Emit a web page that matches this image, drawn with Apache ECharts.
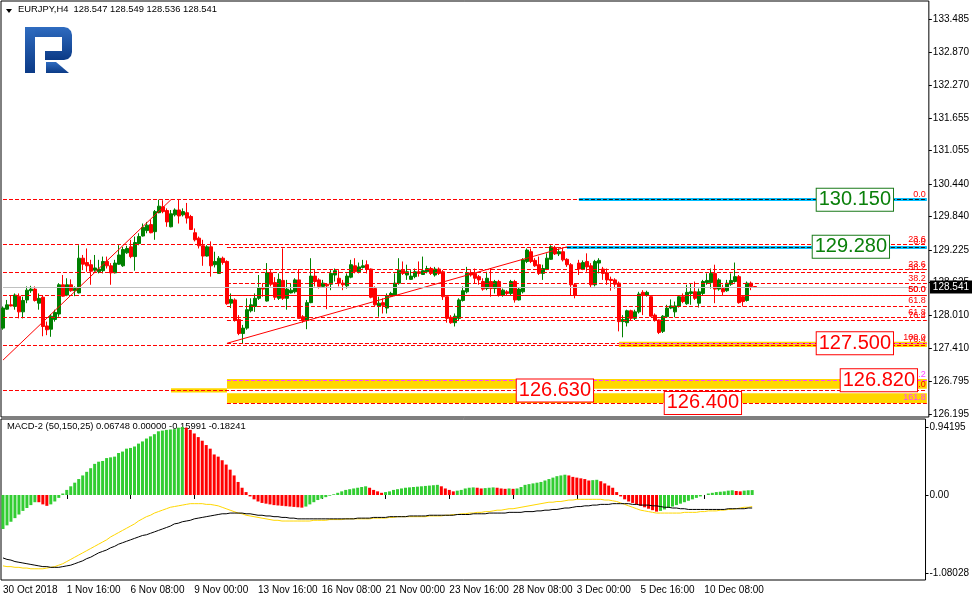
<!DOCTYPE html>
<html><head><meta charset="utf-8">
<script src="https://cdn.jsdelivr.net/npm/echarts@6/dist/echarts.min.js"></script>
<style>html,body{margin:0;padding:0;background:#fff}#c{width:972px;height:601px}</style>
</head><body><div id="c"></div>
<script>
// ---------- DATA ----------
const symbolTitle = 'EURJPY,H4  128.547 128.549 128.536 128.541';
const macdTitle = 'MACD-2 (50,150,25) 0.06748 0.00000 -0.15991 -0.18241';
const barCount = 189;          // H4 bars from 30 Oct 2018 00:00
const slotCount = 232;         // bars + empty chart shift
const lastPrice = 128.541;

const open = [
127.78,128.13,128.21,128.18,128.37,128.08,128.30,128.47,128.50,128.24,
128.35,127.82,127.76,127.94,128.04,128.58,128.39,128.58,128.47,128.43,
129.07,128.99,128.95,128.85,128.82,128.84,129.01,128.93,128.80,128.96,
128.93,129.17,129.28,129.10,129.34,129.48,129.58,129.69,129.56,129.91,
130.02,129.95,129.65,129.87,129.96,129.87,129.91,129.84,129.54,129.44,
129.30,129.11,129.28,128.95,128.79,129.07,129.01,128.24,128.30,127.94,
127.68,127.78,128.10,128.18,128.33,128.53,128.28,128.80,128.62,128.33,
128.66,128.33,128.43,128.45,128.67,127.99,127.92,128.25,128.74,128.67,
128.55,128.59,128.59,128.76,128.70,128.61,128.56,128.72,128.93,128.82,
128.90,128.95,128.87,128.51,128.19,128.25,128.15,128.37,128.39,128.61,
128.85,128.76,128.68,128.73,128.82,128.77,128.82,128.88,128.76,128.87,
128.82,128.36,127.98,127.88,127.96,128.29,128.45,128.80,128.79,128.73,
128.64,128.51,128.64,128.51,128.64,128.39,128.45,128.42,128.64,128.30,
128.45,129.01,129.19,129.03,128.95,128.79,128.87,129.05,129.27,129.15,
129.19,129.05,128.95,128.58,128.98,128.87,129.01,128.93,128.58,128.98,
128.87,128.80,128.68,128.67,128.61,127.90,127.88,128.10,127.96,128.08,
128.44,128.39,128.36,128.02,127.93,127.72,127.99,128.15,128.08,128.18,
128.36,128.23,128.42,128.45,128.24,128.42,128.62,128.62,128.79,128.50,
128.51,128.47,128.59,128.64,128.73,128.36,128.29,128.61,128.547];
const close = [
128.15,128.21,128.19,128.39,128.08,128.29,128.48,128.50,128.29,128.33,
127.81,127.75,128.00,128.07,128.58,128.37,128.58,128.47,128.51,129.07,
128.96,128.93,128.83,128.89,128.87,129.01,128.93,128.80,128.98,129.13,
129.23,129.25,129.10,129.36,129.47,129.64,129.68,129.54,129.93,130.03,
129.93,129.74,129.89,129.96,129.85,129.93,129.81,129.60,129.41,129.30,
129.11,129.28,128.93,129.01,129.07,128.99,128.23,128.31,127.92,127.68,
127.78,128.12,128.21,128.33,128.53,128.50,128.80,128.59,128.35,128.68,
128.33,128.50,128.48,128.67,127.96,127.92,128.25,128.74,128.64,128.55,
128.61,128.56,128.79,128.84,128.61,128.58,128.74,128.95,128.82,128.91,
128.93,128.87,128.35,128.21,128.24,128.20,128.37,128.42,128.61,128.85,
128.79,128.82,128.74,128.82,128.79,128.84,128.88,128.79,128.87,128.79,
128.36,127.96,127.88,128.00,128.30,128.47,128.79,128.76,128.70,128.67,
128.50,128.70,128.51,128.64,128.39,128.48,128.42,128.64,128.30,128.50,
129.04,129.22,129.01,128.93,128.79,128.88,129.07,129.28,129.15,129.19,
129.04,128.95,128.58,128.39,128.87,128.99,128.91,128.58,129.01,129.03,
128.79,128.67,128.66,128.59,127.90,127.94,128.10,127.96,128.08,128.41,
128.39,128.44,128.00,127.92,127.70,128.00,128.15,128.19,128.19,128.36,
128.27,128.44,128.45,128.33,128.45,128.64,128.66,128.79,128.50,128.67,
128.45,128.61,128.66,128.73,128.25,128.27,128.61,128.55,128.541];
const low = [
127.75,128.12,128.18,128.12,127.96,127.96,128.24,128.43,128.27,128.12,
127.63,127.65,127.62,127.90,127.99,128.36,128.37,128.45,128.37,128.42,
128.85,128.82,128.58,128.82,128.79,128.79,128.88,128.58,128.79,128.95,
128.91,129.15,129.07,128.84,129.31,129.47,129.53,129.53,129.41,129.90,
129.90,129.65,129.64,129.84,129.71,129.84,129.71,129.59,129.38,129.25,
128.93,129.10,128.73,128.90,128.78,128.95,128.21,128.15,127.90,127.65,
127.50,127.75,128.07,128.08,128.30,128.36,128.27,128.55,128.30,128.30,
128.30,128.12,128.42,128.42,127.96,127.88,127.76,128.24,128.55,128.51,
128.53,128.13,128.48,128.64,128.55,128.48,128.51,128.70,128.79,128.79,
128.88,128.79,128.33,128.19,127.99,128.05,128.05,128.36,128.37,128.58,
128.76,128.67,128.67,128.70,128.73,128.76,128.79,128.76,128.73,128.76,
128.30,127.88,127.86,127.81,127.93,128.27,128.42,128.73,128.61,128.58,
128.47,128.48,128.36,128.42,128.36,128.36,128.39,128.39,128.25,128.29,
128.42,128.98,128.98,128.91,128.76,128.67,128.85,129.04,129.13,129.11,
129.01,128.91,128.39,128.33,128.76,128.85,128.82,128.53,128.55,128.79,
128.67,128.58,128.47,128.51,127.72,127.61,127.81,127.93,127.93,128.05,
128.02,128.36,127.99,127.90,127.67,127.69,127.98,128.13,127.98,128.16,
128.24,128.21,128.21,128.30,128.16,128.39,128.58,128.51,128.24,128.47,
128.39,128.45,128.56,128.62,128.23,128.18,128.27,128.48,128.536];
const high = [
128.18,128.30,128.39,128.42,128.42,128.36,128.55,128.56,128.55,128.42,
128.39,127.90,128.04,128.12,128.61,128.76,128.70,128.68,128.55,129.31,
129.13,129.25,129.04,129.13,129.04,129.10,129.10,128.98,129.04,129.31,
129.28,129.30,129.41,129.47,129.53,129.71,129.74,129.78,129.96,130.15,
130.14,129.99,129.96,129.99,130.15,129.99,130.09,129.87,129.62,129.47,
129.41,129.31,129.38,129.19,129.11,129.10,129.03,128.42,128.33,128.02,
127.84,128.33,128.33,128.42,128.76,128.61,128.98,128.85,128.72,128.79,
129.25,128.67,128.61,128.70,128.87,128.02,128.30,129.07,128.85,128.70,
128.67,128.61,128.85,128.88,128.85,128.67,128.79,129.04,129.07,128.99,
129.04,129.03,128.88,128.55,128.36,128.33,128.42,128.45,128.79,129.07,
129.01,128.95,128.85,128.88,129.01,129.10,128.93,128.91,128.91,128.90,
128.85,128.36,128.02,128.05,128.33,128.55,128.91,128.85,128.88,128.76,
128.70,128.82,128.88,128.67,128.67,128.51,128.48,128.67,128.67,128.53,
129.07,129.25,129.25,129.07,129.10,128.95,129.16,129.31,129.30,129.25,
129.27,129.07,128.98,128.61,129.04,129.03,129.16,128.98,129.04,129.07,
128.91,128.88,128.73,128.70,128.64,128.02,128.12,128.12,128.12,128.45,
128.48,128.47,128.37,128.05,127.94,128.02,128.21,128.31,128.27,128.39,
128.42,128.58,128.61,128.64,128.51,128.67,128.79,128.88,128.95,128.70,
128.58,128.67,128.79,128.99,128.76,128.39,128.64,128.64,128.549];

const macdHist = [
-0.47,-0.42,-0.37,-0.32,-0.27,-0.22,-0.18,-0.14,-0.10,-0.10,
-0.13,-0.15,-0.13,-0.09,-0.04,0.02,0.07,0.12,0.17,0.22,
0.27,0.32,0.37,0.43,0.46,0.47,0.51,0.52,0.53,0.58,
0.60,0.64,0.65,0.67,0.71,0.74,0.78,0.81,0.84,0.88,
0.89,0.90,0.905,0.91,0.93,0.94,0.93,0.90,0.85,0.80,
0.75,0.69,0.64,0.56,0.53,0.48,0.42,0.35,0.27,0.18,
0.10,0.04,-0.02,-0.06,-0.09,-0.11,-0.12,-0.13,-0.14,-0.145,
-0.15,-0.155,-0.16,-0.165,-0.17,-0.175,-0.16,-0.13,-0.10,-0.07,
-0.05,-0.03,-0.01,0.01,0.03,0.05,0.07,0.08,0.09,0.10,
0.11,0.12,0.10,0.07,0.05,0.03,0.04,0.05,0.07,0.08,
0.09,0.10,0.105,0.11,0.115,0.12,0.125,0.13,0.135,0.14,
0.12,0.09,0.07,0.05,0.06,0.07,0.09,0.10,0.105,0.10,
0.09,0.095,0.10,0.105,0.10,0.09,0.085,0.09,0.085,0.09,
0.11,0.14,0.15,0.16,0.17,0.18,0.20,0.22,0.24,0.26,
0.27,0.28,0.27,0.25,0.24,0.23,0.22,0.20,0.205,0.21,
0.19,0.16,0.13,0.10,0.04,-0.02,-0.06,-0.09,-0.11,-0.13,
-0.15,-0.17,-0.19,-0.21,-0.23,-0.22,-0.20,-0.18,-0.16,-0.14,
-0.12,-0.10,-0.08,-0.06,-0.04,-0.02,0.00,0.02,0.03,0.04,
0.045,0.05,0.06,0.065,0.055,0.05,0.06,0.065,0.0675];
const macdBlack = [
-0.87,-0.89,-0.90,-0.92,-0.93,-0.94,-0.95,-0.96,-0.97,-0.98,
-0.99,-0.99,-1.00,-1.00,-1.00,-0.99,-0.98,-0.97,-0.95,-0.93,
-0.91,-0.88,-0.86,-0.83,-0.80,-0.78,-0.76,-0.73,-0.71,-0.68,
-0.66,-0.64,-0.62,-0.60,-0.58,-0.56,-0.55,-0.53,-0.51,-0.49,
-0.47,-0.45,-0.43,-0.40,-0.39,-0.37,-0.36,-0.35,-0.33,-0.32,
-0.31,-0.30,-0.29,-0.28,-0.27,-0.26,-0.26,-0.25,-0.25,-0.25,
-0.25,-0.26,-0.26,-0.27,-0.28,-0.28,-0.29,-0.29,-0.30,-0.30,
-0.31,-0.31,-0.32,-0.32,-0.33,-0.33,-0.33,-0.33,-0.33,-0.33,
-0.33,-0.33,-0.33,-0.33,-0.33,-0.33,-0.33,-0.33,-0.33,-0.32,
-0.32,-0.32,-0.32,-0.31,-0.31,-0.31,-0.31,-0.30,-0.30,-0.30,
-0.30,-0.30,-0.29,-0.29,-0.29,-0.29,-0.29,-0.28,-0.28,-0.28,
-0.28,-0.28,-0.28,-0.28,-0.27,-0.27,-0.27,-0.27,-0.26,-0.26,
-0.26,-0.26,-0.25,-0.25,-0.25,-0.25,-0.25,-0.24,-0.24,-0.24,
-0.24,-0.23,-0.23,-0.23,-0.22,-0.22,-0.21,-0.21,-0.20,-0.20,
-0.19,-0.18,-0.18,-0.17,-0.16,-0.16,-0.15,-0.15,-0.14,-0.14,
-0.13,-0.13,-0.13,-0.12,-0.12,-0.12,-0.12,-0.12,-0.13,-0.13,
-0.14,-0.14,-0.14,-0.15,-0.15,-0.16,-0.17,-0.17,-0.18,-0.18,
-0.19,-0.19,-0.20,-0.20,-0.20,-0.20,-0.20,-0.20,-0.20,-0.20,
-0.20,-0.20,-0.19,-0.19,-0.19,-0.19,-0.19,-0.18,-0.18];
const macdYellow = [
-0.98,-0.99,-0.99,-1.00,-1.00,-1.01,-1.01,-1.02,-1.02,-1.02,
-1.02,-1.01,-1.00,-0.99,-0.97,-0.95,-0.92,-0.89,-0.86,-0.83,
-0.80,-0.77,-0.74,-0.71,-0.68,-0.65,-0.62,-0.58,-0.55,-0.52,
-0.49,-0.46,-0.43,-0.40,-0.36,-0.33,-0.30,-0.28,-0.25,-0.23,
-0.21,-0.19,-0.17,-0.16,-0.15,-0.14,-0.13,-0.12,-0.12,-0.12,
-0.12,-0.13,-0.13,-0.14,-0.15,-0.17,-0.19,-0.21,-0.23,-0.25,
-0.26,-0.28,-0.29,-0.30,-0.31,-0.32,-0.33,-0.34,-0.35,-0.35,
-0.36,-0.36,-0.36,-0.36,-0.36,-0.36,-0.36,-0.36,-0.35,-0.35,
-0.35,-0.35,-0.34,-0.34,-0.34,-0.34,-0.33,-0.33,-0.33,-0.33,
-0.33,-0.33,-0.33,-0.32,-0.32,-0.32,-0.32,-0.31,-0.31,-0.30,
-0.30,-0.30,-0.30,-0.30,-0.30,-0.30,-0.30,-0.29,-0.29,-0.29,
-0.29,-0.28,-0.28,-0.27,-0.27,-0.26,-0.26,-0.25,-0.25,-0.24,
-0.24,-0.23,-0.23,-0.22,-0.21,-0.21,-0.20,-0.19,-0.19,-0.18,
-0.17,-0.16,-0.15,-0.14,-0.13,-0.12,-0.11,-0.10,-0.10,-0.09,
-0.09,-0.08,-0.07,-0.07,-0.06,-0.06,-0.06,-0.06,-0.06,-0.06,
-0.06,-0.07,-0.07,-0.08,-0.09,-0.11,-0.13,-0.15,-0.17,-0.19,
-0.21,-0.22,-0.23,-0.24,-0.25,-0.25,-0.25,-0.25,-0.25,-0.25,
-0.25,-0.24,-0.24,-0.24,-0.24,-0.23,-0.23,-0.22,-0.22,-0.22,
-0.21,-0.21,-0.20,-0.20,-0.19,-0.18,-0.17,-0.17,-0.16];

const priceTicks = [133.485,132.870,132.270,131.655,131.055,130.440,129.840,129.225,128.625,128.010,127.410,126.795,126.195];
const macdTicks = [0.94195,0,-1.08028];
const priceMin = 126.1396, priceMax = 133.817;
const macdMin = -1.175, macdMax = 1.050;

// Fibonacci tools: price at 0% and 100%, starting bar
const fibRatios = [0,23.6,38.2,50,61.8,76.4,100];
const fibTools = [
  {p0:130.150, p100:126.630, fromBar:0},
  {p0:129.280, p100:127.500, fromBar:56}
];
const fibExtra = [{price:126.400, text:'161.8', fromBar:56}];
const magentaLines = [{price:126.820, text:'38.2', fromBar:56}, {price:127.500, text:'', fromBar:154}];
const magentaTags = [{price:126.665, text:'50.0'}, {price:126.645, text:'61.8'}];
const blueLines = [{price:130.150, fromBar:144}, {price:129.280, fromBar:141}];
const trendLines = [
  {fromBar:0, fromPrice:127.19, toBar:42, toPrice:130.15},
  {fromBar:56, fromPrice:127.50, toBar:141, toPrice:129.28}
];
const yellowBands = [
  {top:126.84, bottom:126.66, fromBar:56, toBar:231},
  {top:126.58, bottom:126.40, fromBar:56, toBar:231},
  {top:127.53, bottom:127.43, fromBar:154, toBar:231},
  {top:126.67, bottom:126.59, fromBar:42, toBar:56}
];
const priceBoxes = [
  {text:'130.150', price:130.150, bar:213, up:true},
  {text:'129.280', price:129.280, bar:212, up:true},
  {text:'127.500', price:127.500, bar:213, up:false},
  {text:'126.820', price:126.820, bar:219, up:false},
  {text:'126.630', price:126.630, bar:138, up:false},
  {text:'126.400', price:126.400, bar:175, up:false}
];

// ---------- BUILD ----------
const MON = ['Jan','Feb','Mar','Apr','May','Jun','Jul','Aug','Sep','Oct','Nov','Dec'];
const categories = [];
let t = Date.UTC(2018, 9, 30, 0, 0);
while (categories.length < barCount) {
  const d = new Date(t), wd = d.getUTCDay();
  if (wd !== 0 && wd !== 6) {
    categories.push(categories.length === 0
      ? d.getUTCDate() + ' ' + MON[d.getUTCMonth()] + ' ' + d.getUTCFullYear()
      : d.getUTCDate() + ' ' + MON[d.getUTCMonth()] + ' ' + String(d.getUTCHours()).padStart(2,'0') + ':00');
  }
  t += 4 * 3600e3;
}
const axisCats = categories.slice();
for (let i = barCount; i < slotCount; i++) axisCats.push('~' + i);
const lastSlot = slotCount - 1;
const FONT = 'Liberation Sans';

const candleData = open.map((o, i) => [o, close[i], low[i], high[i]]);

const RED = '#ff0000', MAG = '#ff40ff';
const mlData = [];
function level(price, from, style, labelText, labelColor) {
  const lab = labelText ? {show:true, position:'insideEndTop', formatter:labelText, color:labelColor,
    fontSize:9, fontFamily:FONT, distance:1} : {show:false};
  mlData.push([{coord:[from, price], lineStyle:style, label:lab}, {coord:[lastSlot, price], lineStyle:style}]);
}
const dashRed = {color:RED, type:[4,2], width:1};
fibTools.forEach(f => fibRatios.forEach(r => {
  level(f.p0 - (f.p0 - f.p100) * r / 100, f.fromBar, dashRed, r.toFixed(1), RED);
}));
fibExtra.forEach(e => level(e.price, e.fromBar, dashRed, e.text, MAG));
magentaLines.forEach(m => level(m.price, m.fromBar, {color:MAG, type:[4,2], width:1}, m.text, MAG));
magentaTags.forEach(m => level(m.price, 56, {color:MAG, width:0, opacity:0}, m.text, MAG));
blueLines.forEach(b => {
  level(b.price, b.fromBar, {color:'#00bfff', type:'solid', width:3}, '', '');
  level(b.price, b.fromBar, {color:'#1a1a1a', type:[4,2], width:1}, '', '');
});
trendLines.forEach(l => mlData.push([
  {coord:[l.fromBar, l.fromPrice], lineStyle:{color:RED, type:'solid', width:1}, label:{show:false}},
  {coord:[l.toBar, l.toPrice], lineStyle:{color:RED, type:'solid', width:1}}]));
mlData.push([
  {coord:[0, lastPrice], lineStyle:{color:'#c0c0c0', type:'solid', width:1},
   label:{show:true, position:'end', formatter:lastPrice.toFixed(3), backgroundColor:'#000', color:'#fff',
          padding:[2,3,1,3], fontSize:10, fontFamily:FONT, distance:3}},
  {coord:[lastSlot, lastPrice], lineStyle:{color:'#c0c0c0', type:'solid', width:1}}]);

const maData = yellowBands.map(b => [
  {coord:[b.fromBar, b.top], itemStyle:{color:'#ffd700', opacity:1}},
  {coord:[b.toBar, b.bottom]}]);

const boxData = priceBoxes.map(b => {
  const c = b.up ? '#0a800a' : '#ff0000';
  const bc = b.up ? '#1a7a1a' : '#ff0000';
  return {value:[b.bar, b.price], name:b.text,
    label:{show:true, position:'inside', formatter:b.text, color:c, fontSize:20, fontFamily:FONT,
      opacity:1, textBorderWidth:0, textBorderColor:'transparent',
      backgroundColor:'#fff', borderColor:bc, borderWidth:1, padding:[2,2,0,2]}};
});

const histData = macdHist.map((v, i) => ({value:v,
  itemStyle:{color:(i === 0 || v > macdHist[i-1]) ? '#32cd32' : '#ff0000'}}));

const labelInterval = (idx) => idx % 16 === 0 && idx < barCount;

const logoGrad = {type:'linear', x:0, y:0, x2:0, y2:1, colorStops:[
  {offset:0, color:'#2f6cc0'}, {offset:1, color:'#0b3a86'}]};

const option = {
  animation:false,
  backgroundColor:'#fff',
  textStyle:{fontFamily:FONT},
  grid:[
    {left:1, top:1, width:928, height:416, show:true, borderColor:'#000', borderWidth:1, backgroundColor:'#fff'},
    {left:1, top:419, width:928, height:161, show:true, borderColor:'#000', borderWidth:1, backgroundColor:'#fff'}
  ],
  xAxis:[
    {type:'category', gridIndex:0, data:axisCats, boundaryGap:true,
     axisLine:{show:false}, axisTick:{show:false}, axisLabel:{show:false}, splitLine:{show:false}},
    {type:'category', gridIndex:1, data:axisCats, boundaryGap:true,
     axisLine:{show:false},
     axisTick:{show:true, alignWithLabel:true, interval:labelInterval, length:4, lineStyle:{color:'#000'}},
     axisLabel:{show:true, interval:labelInterval, align:'left', margin:5, fontSize:10, color:'#000'},
     splitLine:{show:false}}
  ],
  yAxis:[
    {type:'value', gridIndex:0, position:'right', min:priceMin, max:priceMax,
     axisLine:{show:false}, splitLine:{show:false},
     axisTick:{show:true, length:3, customValues:priceTicks, lineStyle:{color:'#000'}},
     axisLabel:{show:true, customValues:priceTicks, margin:4, fontSize:10, color:'#000',
       formatter:v => v.toFixed(3)}},
    {type:'value', gridIndex:1, position:'right', min:macdMin, max:macdMax,
     axisLine:{show:false}, splitLine:{show:false},
     axisTick:{show:true, length:3, customValues:macdTicks, lineStyle:{color:'#000'}},
     axisLabel:{show:true, customValues:macdTicks, margin:4, fontSize:10, color:'#000',
       formatter:v => v === 0 ? '0.00' : v.toFixed(5)}}
  ],
  series:[
    {type:'candlestick', xAxisIndex:0, yAxisIndex:0, data:candleData, barWidth:3, clip:false,
     itemStyle:{color:'#008000', color0:'#ff0000', borderColor:'#008000', borderColor0:'#ff0000', borderWidth:1},
     markArea:{silent:true, data:maData},
     markLine:{silent:true, symbol:['none','none'], animation:false, label:{show:false}, data:mlData}
    },
    {type:'scatter', xAxisIndex:0, yAxisIndex:0, data:boxData, symbol:'rect', symbolSize:1, z:10, clip:false,
     itemStyle:{color:'#fff', opacity:1}, silent:true},
    {type:'bar', xAxisIndex:1, yAxisIndex:1, data:histData, barWidth:3, silent:true},
    {type:'line', xAxisIndex:1, yAxisIndex:1, data:macdYellow, symbol:'none', lineStyle:{color:'#ffd700', width:1}, silent:true, z:3},
    {type:'line', xAxisIndex:1, yAxisIndex:1, data:macdBlack, symbol:'none', lineStyle:{color:'#000', width:1}, silent:true, z:3}
  ],
  graphic:[
    {type:'polygon', shape:{points:[[6,9],[12,9],[9,13]]}, style:{fill:'#000'}},
    {type:'text', x:18, y:5, style:{text:symbolTitle, font:'9.4px "Liberation Sans"', fill:'#000'}},
    {type:'text', x:7, y:422, style:{text:macdTitle, font:'9.4px "Liberation Sans"', fill:'#000'}},
    {type:'rect', shape:{x:25, y:27, width:10, height:46}, style:{fill:logoGrad}},
    {type:'polygon', shape:{points:[[35,27],[64,27],[68,28],[71,31],[72,35],[72,52],[71,56],[68,59],[64,60],[45,60],[45,51],[62,51],[62,37],[35,37]]}, style:{fill:logoGrad}},
    {type:'polygon', shape:{points:[[46,62],[56,62],[69,73],[46,73]]}, style:{fill:logoGrad}}
  ]
};
echarts.init(document.getElementById('c'), null, {renderer:'canvas'}).setOption(option);
</script>
</body></html>
